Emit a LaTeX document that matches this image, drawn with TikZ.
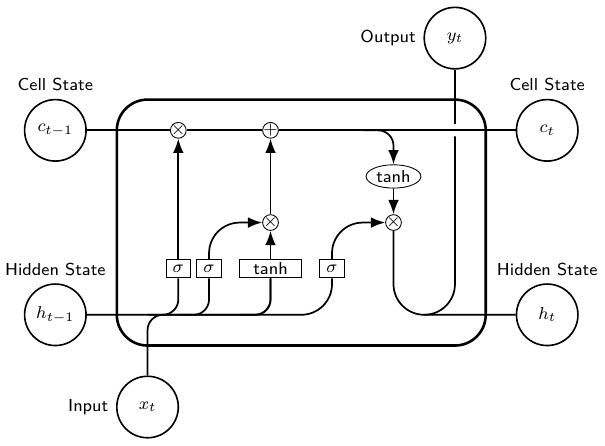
\documentclass[tikz,border=0pt]{standalone}
\usepackage{amsmath}
\usepackage{tikz}
\usetikzlibrary{arrows.meta, shapes.geometric}
\tikzset{
  cellbox/.style={rectangle, rounded corners=5mm, draw, very thick, minimum width=6cm, minimum height=4cm},
  op/.style={circle, draw, inner sep=-0.5pt, minimum height=.2cm},
  fn/.style={ellipse, draw, inner sep=1pt},
  ext/.style={circle, draw, line width=.75pt, minimum width=1cm, inner sep=1pt},
  gate/.style={rectangle, draw, minimum width=4mm, minimum height=3mm, inner sep=1pt},
  lbl/.style={font=\footnotesize\sffamily},
  wire/.style={rounded corners=.25cm, thick},
  bigwire/.style={rounded corners=.5cm, thick}
}
\newcommand{\vt}[2]{$#1_{#2}$}

\begin{document}
\begin{tikzpicture}[font=\sffamily\footnotesize, >=Latex]
\useasboundingbox (-4.9,-3.63) rectangle (4.94,3.62);
\node[cellbox] (cell) at (0,0) {};
\node[gate] (ibox1) at (-2,-0.75) {$\sigma$};
\node[gate] (ibox2) at (-1.5,-0.75) {$\sigma$};
\node[gate, minimum width=1cm] (ibox3) at (-0.5,-0.75) {tanh};
\node[gate] (ibox4) at (0.5,-0.75) {$\sigma$};
\node[op] (mux1) at (-2,1.5) {$\times$};
\node[op] (add1) at (-0.5,1.5) {+};
\node[op] (mux2) at (-0.5,0) {$\times$};
\node[op] (mux3) at (1.5,0) {$\times$};
\node[fn] (func1) at (1.5,0.75) {tanh};
\node[ext, label={[lbl]Cell State}] (c) at (-4,1.5) {\vt{c}{t-1}};
\node[ext, label={[lbl]Hidden State}] (h) at (-4,-1.5) {\vt{h}{t-1}};
\node[ext, label={[lbl]left:Input}] (x) at (-2.5,-3) {\vt{x}{t}};
\node[ext, label={[lbl]Cell State}] (c2) at (4,1.5) {\vt{c}{t}};
\node[ext, label={[lbl]Hidden State}] (h2) at (4,-1.5) {\vt{h}{t}};
\node[ext, label={[lbl]left:Output}] (y) at (2.5,3) {\vt{y}{t}};
\draw[wire] (c) -- (mux1) -- (add1) -- (c2);
\draw[bigwire] (h) -| (ibox4);
\path (h -| ibox1) ++(-0.5,0) coordinate (s1);
\path (h -| ibox2) ++(-0.5,0) coordinate (s2);
\path (h -| ibox3) ++(-0.5,0) coordinate (s3);
\draw[wire] (s1) -| (ibox1);
\draw[wire] (s2) -| (ibox2);
\draw[wire] (s3) -| (ibox3);
\draw[wire] (x) -- (x |- h) -| (ibox3);
\draw[->, bigwire] (ibox1) -- (mux1);
\draw[->, bigwire] (ibox2) |- (mux2);
\draw[->, bigwire] (ibox3) -- (mux2);
\draw[->, bigwire] (ibox4) |- (mux3);
\draw[->, bigwire] (mux2) -- (add1);
\path (add1 -| func1) ++(-0.5,0) coordinate (s4);
\draw[->, wire] (s4) -| (func1);
\draw[->, bigwire] (func1) -- (mux3);
% output leg, broken where it crosses the cell line
\draw[bigwire] (mux3) |- (h2);
\path (c2 -| y) ++(0,-0.1) coordinate (gap1);
\path (gap1) ++(0,0.2) coordinate (gap2);
\path (h2 -| y) ++(-0.5,0) coordinate (s5);
\draw[bigwire] (s5) -| (gap1);
\draw[bigwire] (gap2) -- (y);
\end{tikzpicture}
\end{document}
